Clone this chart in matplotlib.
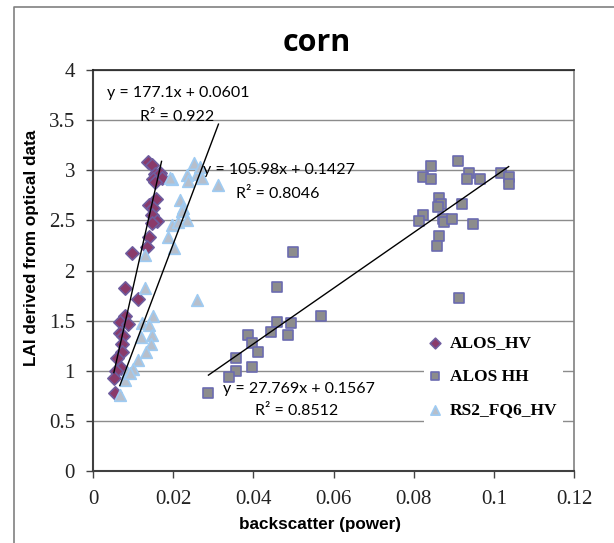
import matplotlib
matplotlib.use("Agg")
import matplotlib.pyplot as plt
from matplotlib.lines import Line2D
import numpy as np

# ---------------- data ----------------
hv_x = [0.0138, 0.0146, 0.0155, 0.0167, 0.0149, 0.0171, 0.0155, 0.0157, 0.0140, 0.0150,
        0.0146, 0.0159, 0.0146, 0.0140, 0.0134, 0.0098, 0.0080, 0.0112, 0.0080, 0.0067,
        0.0088, 0.0067, 0.0076, 0.0073, 0.0073, 0.0061, 0.0069, 0.0057, 0.0052, 0.0055]
hv_y = [3.085, 3.05, 2.96, 2.97, 2.91, 2.92, 2.886, 2.71, 2.65, 2.62,
        2.55, 2.49, 2.47, 2.33, 2.23, 2.17, 1.83, 1.72, 1.546, 1.49,
        1.47, 1.38, 1.35, 1.27, 1.19, 1.124, 1.03, 1.0, 0.925, 0.775]

hh_x = [0.0910, 0.0843, 0.0823, 0.0843, 0.0939, 0.0932, 0.0966, 0.1017, 0.1037, 0.1037,
        0.0864, 0.0868, 0.0860, 0.0921, 0.0823, 0.0813, 0.0874, 0.0876, 0.0895, 0.0947,
        0.0864, 0.0858, 0.0913, 0.0498, 0.0460, 0.0569, 0.0460, 0.0494, 0.0444, 0.0486,
        0.0386, 0.0397, 0.0411, 0.0356, 0.0356, 0.0397, 0.0340, 0.0288]
hh_y = [3.09, 3.045, 2.93, 2.91, 2.975, 2.91, 2.91, 2.975, 2.93, 2.86,
        2.72, 2.66, 2.63, 2.66, 2.55, 2.49, 2.51, 2.48, 2.51, 2.46,
        2.34, 2.24, 1.73, 2.18, 1.84, 1.55, 1.49, 1.48, 1.39, 1.36,
        1.36, 1.28, 1.19, 1.13, 1.00, 1.04, 0.94, 0.775]

rs_x = [0.0252, 0.0234, 0.0259, 0.0271, 0.0196, 0.0238, 0.0217, 0.0225, 0.0221, 0.0196,
        0.0234, 0.0213, 0.0188, 0.0202, 0.0130, 0.0130, 0.0260, 0.0150, 0.0122, 0.0140,
        0.0146, 0.0119, 0.0144, 0.0132, 0.0113, 0.0101, 0.0084, 0.0080, 0.0067, 0.0092,
        0.0267, 0.0313, 0.0192]
rs_y = [3.075, 2.95, 2.96, 2.92, 2.91, 2.895, 2.70, 2.62, 2.59, 2.45,
        2.50, 2.48, 2.33, 2.22, 2.15, 1.83, 1.71, 1.55, 1.48, 1.456,
        1.36, 1.34, 1.27, 1.19, 1.11, 1.02, 0.99, 0.91, 0.76, 0.975,
        3.035, 2.85, 2.92]

series_names = ["ALOS_HV", "ALOS HH", "RS2_FQ6_HV"]
slopes = [177.1, 27.769, 105.98]
intercepts = [0.0601, 0.1567, 0.1427]
eq_labels = ["y = 177.1x + 0.0601", "y = 27.769x + 0.1567", "y = 105.98x + 0.1427"]
r2_labels = ["R\u00b2 = 0.922", "R\u00b2 = 0.8512", "R\u00b2 = 0.8046"]

x_ticks = [0, 0.02, 0.04, 0.06, 0.08, 0.1, 0.12]
x_ticklabels = ["0", "0.02", "0.04", "0.06", "0.08", "0.1", "0.12"]
y_ticks = [0, 0.5, 1, 1.5, 2, 2.5, 3, 3.5, 4]
y_ticklabels = ["0", "0.5", "1", "1.5", "2", "2.5", "3", "3.5", "4"]

# ---------------- figure ----------------
W, H = 614, 543
fig = plt.figure(figsize=(W / 100, H / 100), dpi=100)
fig.patch.set_facecolor("white")

# outer chart frame (left + top visible)
fig.add_artist(Line2D([14 / W, 14 / W, 1.0], [0.0, 1 - 7 / H, 1 - 7 / H],
                      transform=fig.transFigure, color="#808080", lw=1.2))

ax = fig.add_axes([93 / W, (H - 471) / H, 481 / W, 401 / H])
ax.set_xlim(0, 0.12)
ax.set_ylim(0, 4)

ax.set_yticks(y_ticks)
ax.set_yticklabels(y_ticklabels)
ax.set_xticks(x_ticks)
ax.set_xticklabels(x_ticklabels)
for lab in ax.get_xticklabels() + ax.get_yticklabels():
    lab.set_fontfamily("Liberation Serif")
    lab.set_fontsize(15)
    lab.set_color("#222222")
ax.tick_params(axis="both", direction="out", length=5, width=1, color="#444444")
ax.tick_params(axis="y", pad=8)
ax.tick_params(axis="x", pad=9)

ax.grid(axis="y", color="#8c8c8c", lw=1)
ax.set_axisbelow(True)
for side in ["left", "bottom"]:
    ax.spines[side].set_color("#404040")
    ax.spines[side].set_linewidth(1.5)
ax.spines["top"].set_color("#202020")
ax.spines["top"].set_linewidth(1.2)
ax.spines["right"].set_color("#808080")
ax.spines["right"].set_linewidth(1.2)

# scatter series
ax.scatter(hv_x, hv_y, marker="D", s=46, facecolor="#8a3a6a", edgecolor="#6e5c9e",
           linewidth=1.2, zorder=3, label=series_names[0])
ax.scatter(hh_x, hh_y, marker="s", s=50, facecolor="#8c8c8c", edgecolor="#6b6bb0",
           linewidth=1.2, zorder=3, label=series_names[1])
ax.scatter(rs_x, rs_y, marker="^", s=70, facecolor="#b7bfcb", edgecolor="#9fcbf2",
           linewidth=1.2, zorder=3, label=series_names[2])

# trend lines
for xs, m, b in zip([hv_x, hh_x, rs_x], slopes, intercepts):
    xx = np.array([min(xs), max(xs)])
    ax.plot(xx, m * xx + b, color="black", lw=1, zorder=4)

# equation labels
ann_font = dict(family="Lato", fontsize=11.5, color="black", va="center", ha="left", zorder=5)
eq_pos = [(0.0035, 3.77), (0.0324, 0.82), (0.0274, 3.0)]
r2_pos = [(0.0117, 3.53), (0.0404, 0.60), (0.0358, 2.76)]
for t, p in zip(eq_labels, eq_pos):
    ax.text(p[0], p[1], t, **ann_font)
for t, p in zip(r2_labels, r2_pos):
    ax.text(p[0], p[1], t, **ann_font)

# legend
leg = ax.legend(loc="upper left", bbox_to_anchor=(424 / W, 1 - 330 / H),
                bbox_transform=fig.transFigure, frameon=True, fancybox=False,
                framealpha=1, facecolor="white", edgecolor="none",
                prop=dict(family="Liberation Serif", weight="bold", size=12.5),
                handlelength=0.7, handletextpad=0.5, labelspacing=1.0,
                borderpad=0.3, borderaxespad=0, scatterpoints=1, markerscale=0.8)
leg.set_zorder(6)

# titles
fig.text(317 / W, 1 - 43 / H, "corn", family="Open Sans", weight="bold",
         fontsize=22, ha="center", va="center")
fig.text(320 / W, 1 - 525 / H, "backscatter (power)", family="Liberation Sans",
         weight="bold", fontsize=12.3, ha="center", va="center")
fig.text(32 / W, 1 - 248 / H, "LAI derived from optical data", family="Liberation Sans",
         weight="bold", fontsize=12.3, ha="center", va="center", rotation=90)

fig.savefig("out.png", dpi=100)
